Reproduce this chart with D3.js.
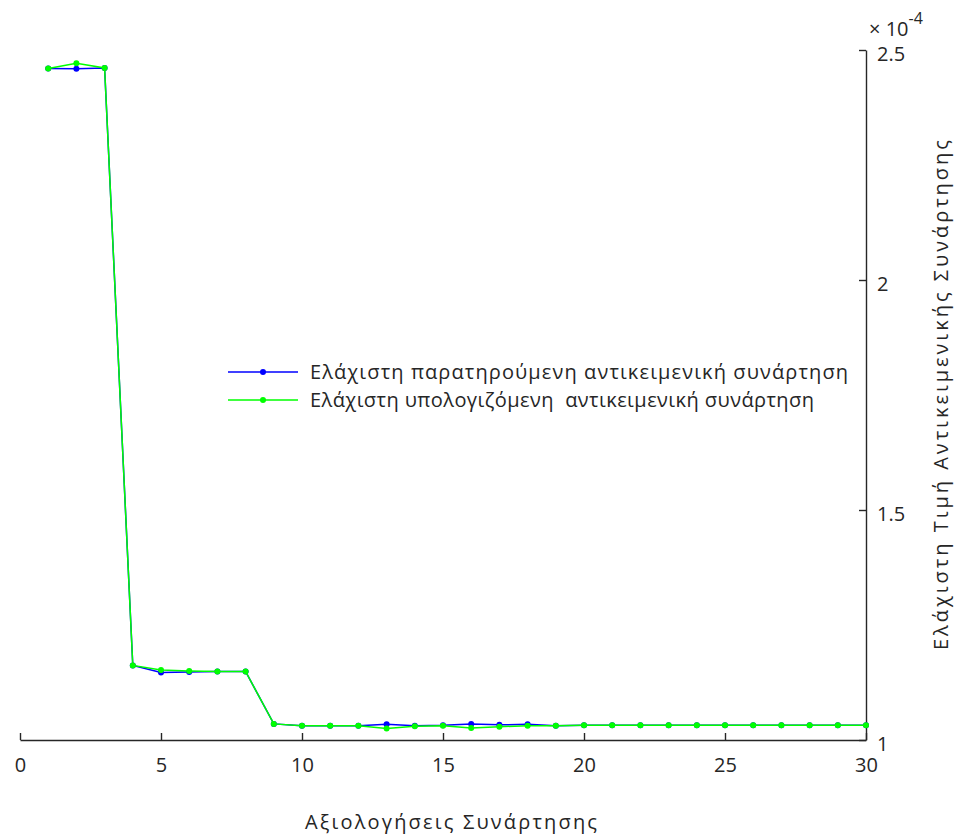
<!DOCTYPE html>
<html>
<head>
<meta charset="utf-8">
<script src="https://cdn.jsdelivr.net/npm/d3@7"></script>
<style>
  html, body { margin: 0; padding: 0; background: #fff; }
  svg { display: block; }
  text { font-family: "Open Sans", Roboto, "Liberation Sans", sans-serif; fill: #262626; }
</style>
</head>
<body>
<svg id="chart" width="963" height="835"></svg>
<script>
// ---- data (objective values in units of 1e-4) ----
const evaluations = d3.range(1, 31);
const observedMin = [2.460, 2.459, 2.461, 1.162, 1.147, 1.148, 1.149, 1.149, 1.035, 1.031,
                     1.031, 1.031, 1.034, 1.031, 1.032, 1.035, 1.033, 1.034, 1.031, 1.032,
                     1.032, 1.032, 1.032, 1.032, 1.032, 1.032, 1.032, 1.032, 1.032, 1.032];
const estimatedMin = [2.460, 2.471, 2.461, 1.162, 1.152, 1.150, 1.149, 1.149, 1.035, 1.031,
                      1.031, 1.031, 1.025, 1.030, 1.031, 1.026, 1.029, 1.031, 1.031, 1.032,
                      1.032, 1.032, 1.032, 1.032, 1.032, 1.032, 1.032, 1.032, 1.032, 1.032];
const xTicks = [0, 5, 10, 15, 20, 25, 30];
const yTicks = [1, 1.5, 2, 2.5];
const seriesNames = ["Ελάχιστη παρατηρούμενη αντικειμενική συνάρτηση",
                     "Ελάχιστη υπολογιζόμενη  αντικειμενική συνάρτηση"];
const seriesColors = ["#0000ff", "#00ff00"];
const xTitle = "Αξιολογήσεις Συνάρτησης";
const yTitle = "Ελάχιστη Τιμή Αντικειμενικής Συνάρτησης";

const svg = d3.select("#chart");
const plotL = 20, plotR = 866, plotT = 50, plotB = 740;
const x = d3.scaleLinear().domain([0, 30]).range([plotL, plotR]);
const y = d3.scaleLinear().domain([1, 2.5]).range([plotB, plotT]);
const axisColor = "#262626";

// axes
const xAxis = svg.append("g").attr("transform", `translate(0,${plotB})`)
  .call(d3.axisBottom(x).tickValues(xTicks).tickSize(-7).tickPadding(18).tickSizeOuter(0));
xAxis.selectAll("text").style("font-size", "20px").attr("dy", "0.71em");
const yAxis = svg.append("g").attr("transform", `translate(${plotR},0)`)
  .call(d3.axisRight(y).tickValues(yTicks).tickFormat(d3.format("")).tickSize(-7).tickPadding(11).tickSizeOuter(0));
yAxis.selectAll("text").style("font-size", "20px").attr("dy", "0.5em");
svg.selectAll(".domain, .tick line").attr("stroke", axisColor).attr("stroke-width", 1.4);
svg.selectAll(".tick text").attr("fill", axisColor);

// exponent label
const expo = svg.append("text").attr("x", 869).attr("y", 36).style("font-size", "20px");
expo.append("tspan").text("× 10");
expo.append("tspan").attr("dy", -12).style("font-size", "16px").text("-4");

// titles
svg.append("text").attr("x", 451).attr("y", 829).attr("text-anchor", "middle")
  .style("font-size", "20px").attr("textLength", 292).attr("lengthAdjust", "spacing").text(xTitle);
svg.append("text").attr("transform", "translate(948,395) rotate(-90)").attr("text-anchor", "middle")
  .style("font-size", "20px").attr("textLength", 510).attr("lengthAdjust", "spacing").text(yTitle);

// series
const line = d3.line().x((d, i) => x(evaluations[i])).y(d => y(d));
[observedMin, estimatedMin].forEach((vals, k) => {
  const g = svg.append("g");
  g.append("path").datum(vals).attr("d", line).attr("fill", "none")
    .attr("stroke", seriesColors[k]).attr("stroke-width", 1.5);
  g.selectAll("circle").data(vals).join("circle")
    .attr("cx", (d, i) => x(evaluations[i])).attr("cy", d => y(d)).attr("r", 3)
    .attr("fill", seriesColors[k]);
});

// legend
const legendWidths = [538, 504];
seriesNames.forEach((name, k) => {
  const ly = 372 + k * 28;
  svg.append("line").attr("x1", 228).attr("x2", 298).attr("y1", ly).attr("y2", ly)
    .attr("stroke", seriesColors[k]).attr("stroke-width", 1.5);
  svg.append("circle").attr("cx", 263).attr("cy", ly).attr("r", 3).attr("fill", seriesColors[k]);
  svg.append("text").attr("x", 310).attr("y", ly).attr("dy", "0.35em").style("font-size", "20px")
    .attr("textLength", legendWidths[k]).attr("lengthAdjust", "spacing")
    .style("white-space", "pre").text(name);
});
</script>
</body>
</html>
